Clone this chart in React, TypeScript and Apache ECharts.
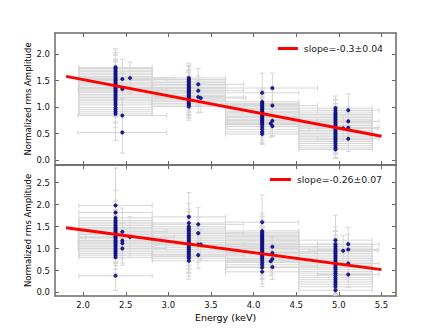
import React, { useEffect, useRef } from "react";
import * as echarts from "echarts";

// Energy bin centres (keV) and half-widths of the main groups
const groupCenters = [2.38, 3.24, 4.1, 4.96];
const binHalfWidth = 0.43;

// Top panel: main groups, [amplitude, error]
const topA = [[1.75,0.35],[1.73,0.3],[1.7,0.28],[1.67,0.33],[1.64,0.25],[1.61,0.3],[1.58,0.27],[1.55,0.32],[1.52,0.24],[1.5,0.29],[1.47,0.26],[1.45,0.31],[1.42,0.23],[1.4,0.28],[1.37,0.25],[1.35,0.3],[1.32,0.27],[1.3,0.24],[1.27,0.29],[1.24,0.26],[1.21,0.31],[1.18,0.28],[1.15,0.25],[1.12,0.3],[1.08,0.27],[1.04,0.32],[0.99,0.29],[0.95,0.34],[0.91,0.4],[0.87,0.5]];
const topB = [[1.55,0.28],[1.52,0.25],[1.49,0.3],[1.46,0.24],[1.43,0.27],[1.4,0.26],[1.37,0.29],[1.35,0.23],[1.32,0.26],[1.3,0.28],[1.27,0.24],[1.25,0.27],[1.22,0.25],[1.2,0.29],[1.17,0.23],[1.15,0.26],[1.12,0.28],[1.1,0.24],[1.07,0.27],[1.04,0.25],[1.01,0.26]];
const topC = [[1.27,0.37],[1.1,0.26],[1.07,0.24],[1.05,0.27],[1.02,0.23],[1.0,0.25],[0.97,0.22],[0.95,0.26],[0.92,0.24],[0.9,0.27],[0.87,0.23],[0.85,0.25],[0.82,0.22],[0.8,0.26],[0.77,0.24],[0.75,0.23],[0.72,0.25],[0.7,0.22],[0.67,0.24],[0.63,0.26],[0.58,0.25],[0.53,0.24],[0.49,0.18]];
const topD = [[0.98,0.23],[0.93,0.22],[0.89,0.24],[0.86,0.21],[0.83,0.23],[0.8,0.22],[0.77,0.24],[0.74,0.21],[0.71,0.23],[0.68,0.22],[0.65,0.24],[0.62,0.21],[0.59,0.23],[0.56,0.22],[0.53,0.24],[0.5,0.21],[0.47,0.23],[0.44,0.22],[0.41,0.21],[0.38,0.23],[0.35,0.22],[0.31,0.21],[0.27,0.22],[0.23,0.2],[0.2,0.16]];
// Top panel: off-centre points, [energy, amplitude, energy error, amplitude error]
const topExtra = [[2.46,1.53,0.52,0.37],[2.46,1.34,0.52,0.3],[2.46,0.84,0.52,0.3],[2.46,0.52,0.52,0.39],[2.55,1.55,0.52,0.3],[3.35,1.43,0.53,0.3],[3.35,1.31,0.53,0.28],[3.35,1.19,0.53,0.3],[3.38,1.17,0.53,0.27],[4.22,1.36,0.53,0.28],[4.22,1.03,0.53,0.3],[4.22,0.74,0.53,0.28],[4.2,0.69,0.53,0.26],[4.22,0.64,0.53,0.2],[5.05,0.6,0.4,0.25],[5.11,0.94,0.36,0.31],[5.11,0.73,0.36,0.27],[5.11,0.61,0.36,0.26],[5.11,0.4,0.36,0.24]];

// Bottom panel
const botA = [[1.98,0.85],[1.82,0.5],[1.7,0.4],[1.64,0.42],[1.6,0.38],[1.56,0.44],[1.52,0.36],[1.48,0.4],[1.45,0.35],[1.42,0.41],[1.38,0.37],[1.35,0.43],[1.32,0.36],[1.28,0.39],[1.25,0.34],[1.22,0.41],[1.18,0.36],[1.15,0.38],[1.12,0.35],[1.08,0.42],[1.05,0.37],[1.01,0.39],[0.97,0.36],[0.93,0.4],[0.89,0.37],[0.85,0.41],[0.8,0.38],[0.38,0.33]];
const botB = [[1.72,0.55],[1.58,0.45],[1.5,0.4],[1.46,0.38],[1.42,0.42],[1.38,0.36],[1.34,0.4],[1.3,0.37],[1.26,0.41],[1.22,0.35],[1.18,0.39],[1.14,0.36],[1.1,0.4],[1.06,0.37],[1.02,0.41],[0.98,0.36],[0.94,0.39],[0.9,0.37],[0.86,0.4],[0.82,0.38],[0.78,0.41],[0.72,0.42]];
const botC = [[1.6,0.62],[1.4,0.4],[1.36,0.37],[1.33,0.41],[1.3,0.35],[1.27,0.38],[1.24,0.36],[1.21,0.4],[1.18,0.34],[1.15,0.37],[1.12,0.35],[1.09,0.39],[1.06,0.33],[1.03,0.36],[1.0,0.34],[0.97,0.38],[0.94,0.35],[0.91,0.37],[0.88,0.33],[0.85,0.36],[0.81,0.34],[0.77,0.37],[0.73,0.35],[0.68,0.36],[0.63,0.34],[0.57,0.37],[0.47,0.34]];
const botD = [[1.19,0.57],[1.1,0.4],[1.05,0.36],[1.01,0.38],[0.97,0.34],[0.93,0.37],[0.89,0.35],[0.85,0.39],[0.81,0.33],[0.77,0.36],[0.73,0.34],[0.69,0.37],[0.65,0.33],[0.61,0.35],[0.57,0.34],[0.53,0.36],[0.48,0.33],[0.44,0.35],[0.39,0.32],[0.34,0.34],[0.29,0.31],[0.24,0.3],[0.19,0.28],[0.13,0.25],[0.05,0.1]];
const botExtra = [[2.46,1.38,0.52,0.54],[2.46,1.18,0.52,0.4],[2.46,1.12,0.52,0.45],[2.46,1.0,0.52,0.38],[2.55,1.26,0.52,0.46],[3.35,1.55,0.53,0.38],[3.35,1.35,0.53,0.36],[3.35,1.09,0.53,0.4],[3.38,1.09,0.53,0.35],[3.35,0.85,0.53,0.3],[4.22,1.04,0.53,0.25],[4.22,0.9,0.53,0.36],[4.22,0.76,0.53,0.34],[4.2,0.71,0.53,0.33],[4.22,0.58,0.53,0.28],[5.05,0.95,0.4,0.35],[5.11,1.1,0.36,0.38],[5.11,0.98,0.36,0.35],[5.11,0.66,0.36,0.33],[5.11,0.41,0.36,0.3]];

// Linear fits (endpoints)
const topFit = [[1.8, 1.58], [5.5, 0.45]];
const botFit = [[1.8, 1.475], [5.5, 0.52]];
const topFitLabel = "slope=-0.3±0.04";
const botFitLabel = "slope=-0.26±0.07";

const xTicks = [2.0, 2.5, 3.0, 3.5, 4.0, 4.5, 5.0, 5.5];
const topYTicks = [0.0, 0.5, 1.0, 1.5, 2.0];
const botYTicks = [0.0, 0.5, 1.0, 1.5, 2.0, 2.5];

const FONT = "DejaVu Sans";

function buildPoints(groups: number[][][], extra: number[][]) {
  const pts: number[][] = [];
  groups.forEach((g, i) => {
    g.forEach(([y, ye]) => pts.push([groupCenters[i], y, binHalfWidth, ye]));
  });
  extra.forEach((p) => pts.push(p));
  return pts;
}

const topPoints = buildPoints([topA, topB, topC, topD], topExtra);
const botPoints = buildPoints([botA, botB, botC, botD], botExtra);

function errRender(params: any, api: any) {
  const x = api.value(0), y = api.value(1), xe = api.value(2), ye = api.value(3);
  const l = api.coord([x - xe, y]);
  const r = api.coord([x + xe, y]);
  const t = api.coord([x, y + ye]);
  const b = api.coord([x, y - ye]);
  const cap = 2.5;
  const style = { stroke: "#d6d6d6", lineWidth: 1, fill: "none" };
  const ln = (x1: number, y1: number, x2: number, y2: number) => ({
    type: "line",
    shape: { x1, y1, x2, y2 },
    style,
  });
  return {
    type: "group",
    children: [
      ln(l[0], l[1], r[0], r[1]),
      ln(l[0], l[1] - cap, l[0], l[1] + cap),
      ln(r[0], r[1] - cap, r[0], r[1] + cap),
      ln(t[0], t[1], b[0], b[1]),
      ln(t[0] - cap, t[1], t[0] + cap, t[1]),
      ln(b[0] - cap, b[1], b[0] + cap, b[1]),
    ],
  };
}

export default function App() {
  const ref = useRef<HTMLDivElement>(null);
  useEffect(() => {
    if (!ref.current) return;
    const chart = echarts.init(ref.current, null, { renderer: "svg" });
    const axisColor = "#6a6a6a";
    const tickCommon = {
      show: true,
      inside: true,
      length: 4,
      lineStyle: { color: axisColor, width: 1 },
    };
    const mkX = (gridIndex: number, position: string, labels: boolean, name?: string) => ({
      type: "value",
      gridIndex,
      position,
      min: 1.67,
      max: 5.67,
      name: name || "",
      nameLocation: "middle",
      nameGap: 16,
      nameMoveOverlap: false,
      nameTextStyle: { fontFamily: FONT, fontSize: 9.5, color: "#000", fontWeight: "normal" },
      axisLine: { show: true, onZero: false, lineStyle: { color: axisColor, width: 1.5 } },
      axisTick: { ...tickCommon, customValues: xTicks },
      axisLabel: {
        show: labels,
        customValues: xTicks,
        formatter: (v: number) => v.toFixed(1),
        fontFamily: FONT,
        fontSize: 8.5,
        color: "#111",
        margin: 4,
      },
      splitLine: { show: false },
    });
    const mkY = (gridIndex: number, position: string, labels: boolean, min: number, max: number, ticks: number[], name?: string) => ({
      type: "value",
      gridIndex,
      position,
      min,
      max,
      name: name || "",
      nameLocation: "middle",
      nameGap: 23,
      nameRotate: 90,
      nameMoveOverlap: false,
      nameTextStyle: { fontFamily: FONT, fontSize: 8.5, color: "#000", fontWeight: "normal" },
      axisLine: { show: true, onZero: false, lineStyle: { color: axisColor, width: 1.5 } },
      axisTick: { ...tickCommon, customValues: ticks },
      axisLabel: {
        show: labels,
        customValues: ticks,
        formatter: (v: number) => v.toFixed(1),
        fontFamily: FONT,
        fontSize: 8.5,
        color: "#111",
        margin: 5,
      },
      splitLine: { show: false },
    });

    chart.setOption({
      animation: false,
      backgroundColor: "#fff",
      grid: [
        { left: 55, top: 33, width: 341, height: 132 },
        { left: 55, top: 165, width: 341, height: 131 },
      ],
      xAxis: [
        mkX(0, "bottom", false),
        mkX(0, "top", false),
        mkX(1, "bottom", true, "Energy (keV)"),
        mkX(1, "top", false),
      ],
      yAxis: [
        mkY(0, "left", true, -0.095, 2.4, topYTicks, "Normalized rms Amplitude"),
        mkY(0, "right", false, -0.095, 2.4, topYTicks),
        mkY(1, "left", true, -0.08, 2.9, botYTicks, "Normalized rms Amplitude"),
        mkY(1, "right", false, -0.08, 2.9, botYTicks),
      ],
      legend: [
        {
          data: [topFitLabel],
          right: 52,
          top: 39,
          icon: "rect",
          itemWidth: 20,
          itemHeight: 3,
          textStyle: { fontFamily: FONT, fontSize: 9.3, color: "#1a1a1a", fontWeight: "normal", padding: [0, 0, 0, 1] },
        },
        {
          data: [botFitLabel],
          right: 53,
          top: 170,
          icon: "rect",
          itemWidth: 21,
          itemHeight: 3,
          textStyle: { fontFamily: FONT, fontSize: 9.3, color: "#1a1a1a", fontWeight: "normal", padding: [0, 0, 0, 1] },
        },
      ],
      series: [
        {
          type: "custom",
          xAxisIndex: 0,
          yAxisIndex: 0,
          renderItem: errRender,
          data: topPoints,
          encode: { x: 0, y: 1 },
          clip: true,
          z: 1,
        },
        {
          type: "custom",
          xAxisIndex: 2,
          yAxisIndex: 2,
          renderItem: errRender,
          data: botPoints,
          encode: { x: 0, y: 1 },
          clip: true,
          z: 1,
        },
        {
          type: "scatter",
          xAxisIndex: 0,
          yAxisIndex: 0,
          data: topPoints.map((p) => [p[0], p[1]]),
          symbolSize: 3.5,
          itemStyle: { color: "#1a1aa8", borderColor: "#000040", borderWidth: 0.4, opacity: 1 },
          z: 2,
        },
        {
          type: "scatter",
          xAxisIndex: 2,
          yAxisIndex: 2,
          data: botPoints.map((p) => [p[0], p[1]]),
          symbolSize: 3.5,
          itemStyle: { color: "#1a1aa8", borderColor: "#000040", borderWidth: 0.4, opacity: 1 },
          z: 2,
        },
        {
          name: topFitLabel,
          type: "line",
          xAxisIndex: 0,
          yAxisIndex: 0,
          data: topFit,
          showSymbol: false,
          symbol: "none",
          lineStyle: { color: "#ff0000", width: 3 },
          itemStyle: { color: "#ff0000" },
          z: 3,
        },
        {
          name: botFitLabel,
          type: "line",
          xAxisIndex: 2,
          yAxisIndex: 2,
          data: botFit,
          showSymbol: false,
          symbol: "none",
          lineStyle: { color: "#ff0000", width: 3 },
          itemStyle: { color: "#ff0000" },
          z: 3,
        },
      ],
    });
    return () => chart.dispose();
  }, []);
  return (
    <div
      ref={ref}
      style={{ position: "fixed", left: 0, top: 0, width: 440, height: 330, background: "#fff" }}
    />
  );
}
